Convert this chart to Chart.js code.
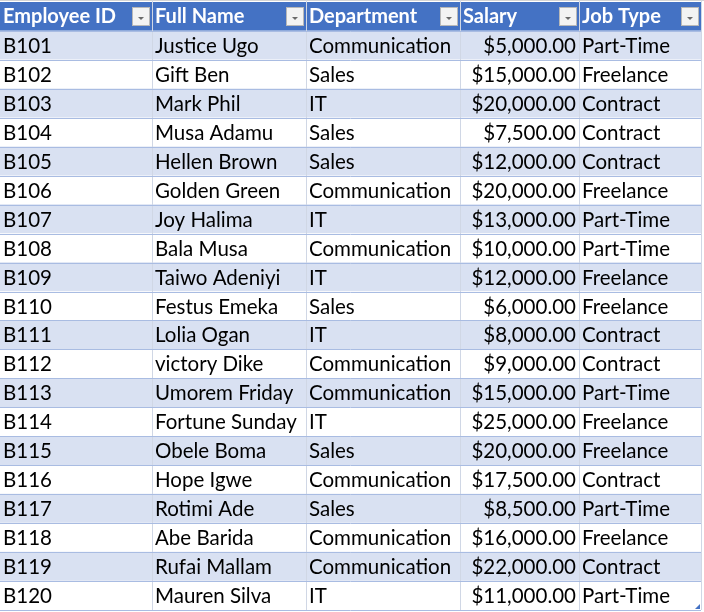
<html lang="en">
<head>
    <meta name="viewport" content="width=device-width, initial-scale=1.0" />
    <title>Employee Table</title>
    <style>
        * {
  padding: 0;
  margin: 0;
  box-sizing: border-box;
}
body {
  background: #ffffff;
}
.wrapper {
  position: relative;
  width: 704px;
  height: 612px;
}
    </style>
  </head>
  <body>
    <div class="wrapper">
      <canvas id="table"></canvas>
    </div>
    <script src="https://cdn.jsdelivr.net/npm/chart.js@4.4.1/dist/chart.umd.min.js"></script>

<script>
    // Column headers
    const headers = ["Employee ID", "Full Name", "Department", "Salary", "Job Type"];

    // Table values, one array per column
    const ids = ["B101", "B102", "B103", "B104", "B105", "B106", "B107", "B108", "B109", "B110",
                 "B111", "B112", "B113", "B114", "B115", "B116", "B117", "B118", "B119", "B120"];
    const names = ["Justice Ugo", "Gift Ben", "Mark Phil", "Musa Adamu", "Hellen Brown", "Golden Green",
                   "Joy Halima", "Bala Musa", "Taiwo Adeniyi", "Festus Emeka", "Lolia Ogan", "victory Dike",
                   "Umorem Friday", "Fortune Sunday", "Obele Boma", "Hope Igwe", "Rotimi Ade", "Abe Barida",
                   "Rufai Mallam", "Mauren Silva"];
    const departments = ["Communication", "Sales", "IT", "Sales", "Sales", "Communication", "IT",
                         "Communication", "IT", "Sales", "IT", "Communication", "Communication", "IT",
                         "Sales", "Communication", "Sales", "Communication", "Communication", "IT"];
    const salaries = [5000, 15000, 20000, 7500, 12000, 20000, 13000, 10000, 12000, 6000,
                      8000, 9000, 15000, 25000, 20000, 17500, 8500, 16000, 22000, 11000];
    const jobTypes = ["Part-Time", "Freelance", "Contract", "Contract", "Contract", "Freelance", "Part-Time",
                      "Part-Time", "Freelance", "Freelance", "Contract", "Contract", "Part-Time", "Freelance",
                      "Freelance", "Contract", "Part-Time", "Freelance", "Contract", "Part-Time"];

    // Layout: column edges on the x scale, and which columns are right aligned
    const colEdges = [0, 152, 306, 460, 579, 701];
    const alignRight = [false, false, false, true, false];
    const tableWidth = colEdges[colEdges.length - 1];

    const FONT = "Lato, 'Open Sans', sans-serif";
    const FONT_SIZE = 20.5;
    const HEAD_SIZE = 20;

    const money = (v) => "$" + v.toLocaleString("en-US", { minimumFractionDigits: 2, maximumFractionDigits: 2 });

    const rowLabels = ["header"].concat(ids);
    const rowColors = rowLabels.map((_, i) => (i === 0 ? "#4472C4" : i % 2 === 1 ? "#D9E1F2" : "#FFFFFF"));

    function cellText(row, col) {
        if (col === 0) return ids[row];
        if (col === 1) return names[row];
        if (col === 2) return departments[row];
        if (col === 3) return money(salaries[row]);
        return jobTypes[row];
    }

    // Plugin that draws grid lines, header buttons and cell text
    const tablePlugin = {
        id: "tableCells",
        afterDatasetsDraw(chart) {
            const ctx = chart.ctx;
            const x = chart.scales.x;
            const y = chart.scales.y;
            const step = y.getPixelForValue(1) - y.getPixelForValue(0);
            const left = x.getPixelForValue(0);
            const right = x.getPixelForValue(tableWidth);
            const bottom = y.getPixelForValue(rowLabels.length - 1) + step / 2;

            ctx.save();
            // top sheet gridline
            ctx.strokeStyle = "#D4D4D4";
            ctx.lineWidth = 1;
            ctx.beginPath();
            ctx.moveTo(0, 0.5);
            ctx.lineTo(chart.width, 0.5);
            ctx.stroke();

            // vertical lines
            colEdges.forEach((e, i) => {
                if (i === 0) return;
                const px = Math.round(x.getPixelForValue(e)) + 0.5;
                ctx.strokeStyle = "#D0D7E5";
                ctx.beginPath();
                ctx.moveTo(px, 0);
                ctx.lineTo(px, bottom);
                ctx.stroke();
            });

            // horizontal lines between rows
            for (let i = 1; i <= rowLabels.length; i++) {
                const py = Math.round(y.getPixelForValue(i) - step / 2) + 0.5;
                ctx.strokeStyle = "#A9BCE2";
                ctx.beginPath();
                ctx.moveTo(left, py);
                ctx.lineTo(right, py);
                ctx.stroke();
            }

            // header text and filter buttons
            const hy = y.getPixelForValue(0);
            headers.forEach((h, c) => {
                const x0 = x.getPixelForValue(colEdges[c]);
                const x1 = x.getPixelForValue(colEdges[c + 1]);
                ctx.fillStyle = "#FFFFFF";
                ctx.font = "bold " + HEAD_SIZE + "px " + FONT;
                ctx.textAlign = "left";
                ctx.textBaseline = "alphabetic";
                ctx.fillText(h, x0 + 3, hy + 7);

                const bx = Math.round(x1) - 20;
                const by = Math.round(hy - step / 2) + 5;
                ctx.fillStyle = "#F3F3F3";
                ctx.fillRect(bx, by, 18, 19);
                ctx.strokeStyle = "#B8B8B8";
                ctx.strokeRect(bx + 0.5, by + 0.5, 17, 18);
                ctx.fillStyle = "#6A6A6A";
                ctx.beginPath();
                ctx.moveTo(bx + 6, by + 10);
                ctx.lineTo(bx + 12, by + 10);
                ctx.lineTo(bx + 9, by + 13);
                ctx.closePath();
                ctx.fill();
            });

            // body cells
            ctx.font = FONT_SIZE + "px " + FONT;
            ctx.fillStyle = "#000000";
            for (let r = 0; r < ids.length; r++) {
                const cy = y.getPixelForValue(r + 1);
                for (let c = 0; c < headers.length; c++) {
                    const x0 = x.getPixelForValue(colEdges[c]);
                    const x1 = x.getPixelForValue(colEdges[c + 1]);
                    if (alignRight[c]) {
                        ctx.textAlign = "right";
                        ctx.fillText(cellText(r, c), x1 - 3, cy + 7.5);
                    } else {
                        ctx.textAlign = "left";
                        ctx.fillText(cellText(r, c), x0 + 3, cy + 7.5);
                    }
                }
            }

            // resize handle at the bottom right corner
            ctx.fillStyle = "#4472C4";
            ctx.beginPath();
            ctx.moveTo(right - 1, bottom - 6);
            ctx.lineTo(right - 1, bottom - 1);
            ctx.lineTo(right - 6, bottom - 1);
            ctx.closePath();
            ctx.fill();
            ctx.restore();
        },
    };

    const tableChart = new Chart(document.getElementById("table"), {
        type: "bar",
        plugins: [tablePlugin],
        data: {
            labels: rowLabels,
            datasets: [
                {
                    data: rowLabels.map(() => [0, tableWidth]),
                    backgroundColor: rowColors,
                    borderWidth: 0,
                    barPercentage: 1,
                    categoryPercentage: 1,
                },
            ],
        },
        options: {
            indexAxis: "y",
            responsive: true,
            maintainAspectRatio: false,
            animation: false,
            layout: { padding: { top: 2, bottom: 2, left: 0, right: 3 } },
            plugins: {
                legend: { display: false },
                tooltip: { enabled: false },
            },
            scales: {
                x: { type: "linear", min: 0, max: tableWidth, display: false },
                y: { type: "category", display: false },
            },
            events: [],
        },
    });
</script>
</body>
</html>
